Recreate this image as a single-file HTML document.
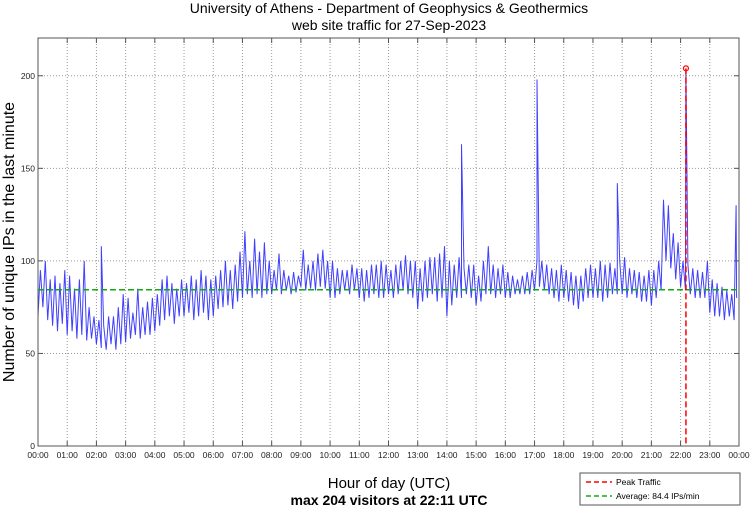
<!DOCTYPE html>
<html><head><meta charset="utf-8"><style>
body{margin:0;background:#fff;width:750px;height:511px;overflow:hidden}
svg text{font-family:"Liberation Sans",sans-serif}
</style></head><body>
<svg id="chart" width="750" height="511">
<text x="389" y="13" font-size="14" text-anchor="middle">University of Athens - Department of Geophysics &amp; Geothermics</text>
<text x="389" y="30" font-size="14" text-anchor="middle">web site traffic for 27-Sep-2023</text>
<g id="grid"></g>
<g id="series"></g>
<rect x="38" y="38" width="701" height="408" fill="none" stroke="#555"/>
<g id="ticks"></g>
<text transform="translate(14,242) rotate(-90)" font-size="16" text-anchor="middle">Number of unique IPs in the last minute</text>
<text x="389" y="488" font-size="15" text-anchor="middle">Hour of day (UTC)</text>
<text x="389" y="505" font-size="14" font-weight="bold" text-anchor="middle">max 204 visitors at 22:11 UTC</text>
<g>
<rect x="580" y="473" width="160" height="32" fill="#fff" stroke="#555"/>
<line x1="586" y1="482" x2="612" y2="482" stroke="#f00" stroke-width="1.5" stroke-dasharray="5,3"/>
<text x="616" y="485" font-size="8.5">Peak Traffic</text>
<line x1="586" y1="496" x2="612" y2="496" stroke="#1a1" stroke-width="1.5" stroke-dasharray="5,3"/>
<text x="616" y="499" font-size="8.5">Average: 84.4 IPs/min</text>
</g>
</svg>
<script>
const lows=[70,75,68,65,62,66, 60,62,58,60,57,58, 55,53,52,55,52,55, 56,58,60,58,60,60, 62,65,68,70,66,70, 70,72,68,70,72,68, 70,74,75,76,74,78, 80,82,80,82,80,82, 82,84,82,84,82,83, 86,84,85,84,86,85, 80,80,82,84,82,84, 80,78,80,82,80,80, 82,80,82,84,82,80, 74,78,80,82,78,80, 70,76,80,80,82,80, 76,78,82,82,80,82, 80,80,82,82,82,82, 84,86,84,82,80,78, 80,78,76,74,78,80, 80,80,78,80,82,82, 82,80,82,80,78,78, 76,80,84,100,96,90, 86,84,82,80,80,80, 72,70,70,68,70,68];
const highs=[95,100,90,92,88,95, 92,85,90,100,75,70, 68,65,70,70,75,82, 80,72,85,75,78,80, 82,90,92,88,85,90, 88,92,90,95,92,90, 92,95,100,95,98,105, 116,100,112,105,110,100, 95,104,95,92,94,92, 106,98,100,104,106,100, 100,96,95,95,98,96, 96,95,98,98,100,98, 95,98,100,103,100,100, 96,100,102,102,104,108, 100,98,102,96,98,98, 92,100,108,98,96,98, 94,92,90,92,94,95, 100,100,98,96,95,98, 95,94,92,92,96,98, 96,100,98,99,96,100, 102,96,95,94,92,95, 95,100,133,130,115,110, 100,98,96,95,94,100, 90,88,86,84,82,80];
const spikeMinutes=[130,870,1025,1190,1331,1434];
const spikeValues=[108,163,198,142,204,130];
const yTicks=[0,50,100,150,200];
const hourLabels=["00:00","01:00","02:00","03:00","04:00","05:00","06:00","07:00","08:00","09:00","10:00","11:00","12:00","13:00","14:00","15:00","16:00","17:00","18:00","19:00","20:00","21:00","22:00","23:00","00:00"];
const averageValue=84.4, peakMinute=1331, peakValue=204;

const NS="http://www.w3.org/2000/svg";
const X0=38,X1=739,Y0=446,Y1=38,YMAX=220.4;
const xs=m=>X0+(X1-X0)*m/1440;
const ys=v=>Y0-(Y0-Y1)*v/YMAX;
function mk(tag,attrs,parent){const e=document.createElementNS(NS,tag);for(const k in attrs)e.setAttribute(k,attrs[k]);parent.appendChild(e);return e;}
const grid=document.getElementById('grid'),ticks=document.getElementById('ticks'),ser=document.getElementById('series');
hourLabels.forEach((l,i)=>{
  const x=xs(i*60);
  if(i>0&&i<24){const g=mk('line',{x1:x,x2:x,y1:Y1,y2:Y0,stroke:'#999','stroke-dasharray':'1,2'},grid);
  
  }
  mk('line',{x1:x,x2:x,y1:Y0,y2:Y0-5,stroke:'#555'},ticks);mk('line',{x1:x,x2:x,y1:Y1,y2:Y1+5,stroke:'#555'},ticks);
  const t=mk('text',{x:x,y:458,'font-size':8.5,'text-anchor':'middle',fill:'#222'},ticks);t.textContent=l;
  
  
});
yTicks.forEach(v=>{
  const y=ys(v);
  if(v>0){const g=mk('line',{x1:X0,x2:X1,y1:y,y2:y,stroke:'#999','stroke-dasharray':'1,2'},grid);
  
  }
  mk('line',{x1:X0,x2:X0+5,y1:y,y2:y,stroke:'#555'},ticks);mk('line',{x1:X1,x2:X1-5,y1:y,y2:y,stroke:'#555'},ticks);
  const t=mk('text',{x:X0-3,y:y+3,'font-size':8.5,'text-anchor':'end',fill:'#222'},ticks);t.textContent=v;
  
  
});
// series points: every 5 minutes alternate low/high, plus spikes
let pts=[];
lows.forEach((lo,i)=>{pts.push([i*10,lo]);pts.push([i*10+5,highs[i]]);});
spikeMinutes.forEach((m,i)=>{pts.push([m,spikeValues[i]]);});
pts.sort((a,b)=>a[0]-b[0]);
const line=mk('polyline',{points:pts.map(p=>xs(p[0]).toFixed(1)+','+ys(p[1]).toFixed(1)).join(' '),fill:'none',stroke:'#1e1eff','stroke-width':1,'stroke-opacity':0.85},ser);


const avg=mk('line',{x1:X0,x2:X1,y1:ys(averageValue),y2:ys(averageValue),stroke:'#1a1','stroke-width':1.5,'stroke-dasharray':'6,3'},ser);


const pk=mk('line',{x1:xs(peakMinute),x2:xs(peakMinute),y1:ys(peakValue),y2:Y0,stroke:'#f00','stroke-width':1.5,'stroke-dasharray':'6,3'},ser);


const pm=mk('circle',{cx:xs(peakMinute),cy:ys(peakValue),r:2.5,fill:'none',stroke:'#f00','stroke-width':1.2},ser);


</script>
</body></html>
